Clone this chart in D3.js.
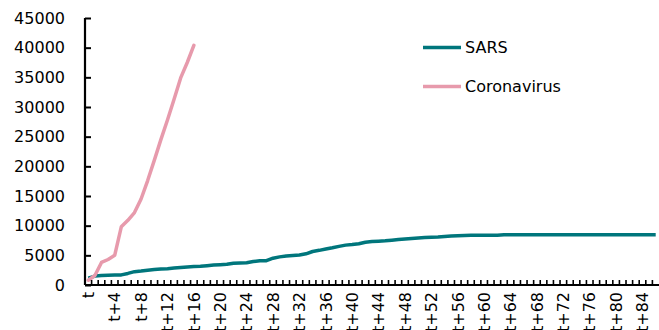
<!DOCTYPE html>
<html>
<head>
<meta charset="utf-8">
<script src="https://cdn.jsdelivr.net/npm/d3@7"></script>
<style>
  html, body { margin: 0; padding: 0; background: #fff; }
  svg { display: block; }
  text { font-family: "DejaVu Sans", Verdana, sans-serif; fill: #000; }
</style>
</head>
<body>
<svg id="chart" width="659" height="330"></svg>
<script>
// Cumulative confirmed cases, day t onward
const sars = [
  1150, 1500, 1600, 1650, 1680, 1700, 1950, 2250, 2350, 2500,
  2600, 2700, 2750, 2850, 2950, 3050, 3100, 3150, 3260, 3370,
  3430, 3480, 3650, 3700, 3760, 3950, 4100, 4100, 4520, 4740,
  4900, 4980, 5050, 5260, 5650, 5840, 6060, 6270, 6510, 6720,
  6820, 6960, 7200, 7330, 7380, 7450, 7550, 7660, 7760, 7850,
  7930, 7990, 8050, 8100, 8180, 8240, 8300, 8350, 8370, 8370,
  8370, 8370, 8380, 8450, 8470, 8470, 8470, 8470, 8470, 8470,
  8470, 8470, 8470, 8470, 8470, 8470, 8470, 8470, 8470, 8470,
  8470, 8470, 8470, 8470, 8470, 8470, 8470
];
const corona = [
  800, 1600, 3800, 4300, 5000, 9800, 10900, 12200, 14500, 17600,
  21000, 24500, 27800, 31300, 34900, 37500, 40400
];
const categories = sars.map((_, i) => i === 0 ? "t" : "t+" + i);
const yTicks = [0, 5000, 10000, 15000, 20000, 25000, 30000, 35000, 40000, 45000];
const seriesNames = ["SARS", "Coronavirus"];
const colors = { SARS: "#00767c", Coronavirus: "#e79aac" };

const svg = d3.select("#chart");
const plotLeft = 85, plotRight = 659, plotTop = 18, plotBottom = 285;

const x = d3.scaleBand().domain(categories).range([plotLeft, plotRight]).paddingInner(0).paddingOuter(0);
const y = d3.scaleLinear().domain([0, 45000]).range([plotBottom, plotTop]);
const cx = c => x(c) + x.bandwidth() / 2;

// Lines
const line = d3.line()
  .x((d, i) => cx(categories[i]))
  .y(d => y(d));

svg.append("path").datum(sars)
  .attr("d", line).attr("fill", "none")
  .attr("stroke", colors.SARS).attr("stroke-width", 3.5)
  .attr("stroke-linejoin", "round");

svg.append("path").datum(corona)
  .attr("d", line).attr("fill", "none")
  .attr("stroke", colors.Coronavirus).attr("stroke-width", 3.5)
  .attr("stroke-linejoin", "round").attr("stroke-linecap", "round");

// Y axis
const yAxis = d3.axisRight(y).tickValues(yTicks).tickSize(6).tickFormat("");
const gy = svg.append("g").attr("transform", `translate(${plotLeft},0)`).call(yAxis);
gy.select(".domain").attr("stroke", "#000").attr("stroke-width", 2.2)
  .attr("d", `M0,${plotTop}V${plotBottom}`);
gy.selectAll(".tick line").attr("stroke", "#000").attr("stroke-width", 2);

svg.append("g").selectAll("text").data(yTicks).join("text")
  .attr("x", 65).attr("y", d => y(d)).attr("dy", "0.36em")
  .attr("text-anchor", "end").attr("font-size", 16)
  .text(d => d);

// X axis: ticks on band boundaries, pointing up
const gx = svg.append("g");
gx.append("line").attr("x1", plotLeft).attr("x2", plotRight)
  .attr("y1", plotBottom).attr("y2", plotBottom)
  .attr("stroke", "#000").attr("stroke-width", 2.2);
gx.selectAll("line.tk").data(categories.slice(1)).join("line")
  .attr("class", "tk")
  .attr("x1", d => x(d)).attr("x2", d => x(d))
  .attr("y1", plotBottom).attr("y2", plotBottom - 5)
  .attr("stroke", "#000").attr("stroke-width", 1.6);

gx.selectAll("text").data(categories.filter((d, i) => i % 4 === 0)).join("text")
  .attr("transform", d => `translate(${cx(d)},${plotBottom + 7}) rotate(-90)`)
  .attr("dy", "0.36em")
  .attr("text-anchor", "end").attr("font-size", 16)
  .text(d => d);

// Legend
const legend = svg.append("g");
seriesNames.forEach((name, i) => {
  const ly = 47.5 + i * 39;
  legend.append("line").attr("x1", 423).attr("x2", 461)
    .attr("y1", ly).attr("y2", ly)
    .attr("stroke", colors[name]).attr("stroke-width", 3.5);
  legend.append("text").attr("x", 465).attr("y", ly).attr("dy", "0.36em")
    .attr("font-size", 16).text(name);
});
</script>
</body>
</html>
